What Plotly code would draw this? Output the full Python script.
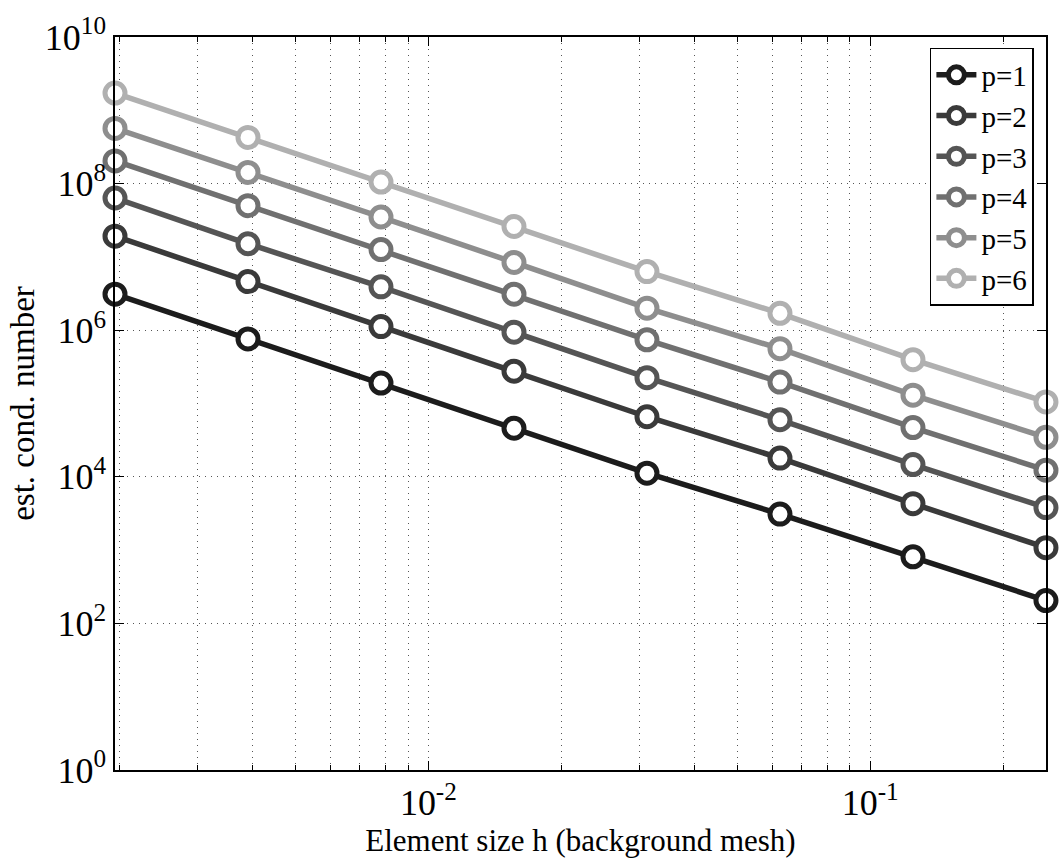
import plotly.graph_objects as go

h = [2**-9, 2**-8, 2**-7, 2**-6, 2**-5, 2**-4, 2**-3, 2**-2]
labels = ["p=1", "p=2", "p=3", "p=4", "p=5", "p=6"]
p1 = [3.1e6, 7.6e5, 1.9e5, 4.6e4, 1.12e4, 3.1e3, 810, 205]
p2 = [1.92e7, 4.6e6, 1.12e6, 2.76e5, 6.6e4, 1.8e4, 4.3e3, 1.08e3]
p3 = [6.36e7, 1.51e7, 3.9e6, 9.4e5, 2.25e5, 6.0e4, 1.47e4, 3.8e3]
p4 = [2.04e8, 5.0e7, 1.26e7, 3.1e6, 7.4e5, 1.96e5, 4.7e4, 1.23e4]
p5 = [5.66e8, 1.42e8, 3.5e7, 8.4e6, 2.0e6, 5.6e5, 1.3e5, 3.46e4]
p6 = [1.72e9, 4.27e8, 1.05e8, 2.6e7, 6.3e6, 1.7e6, 3.96e5, 1.05e5]
series = [p1, p2, p3, p4, p5, p6]
colors = ["#1c1c1c", "#3a3a3a", "#555555", "#707070", "#8e8e8e", "#b0b0b0"]

xtickvals = [1e-2, 1e-1]
xticktext = ["10<sup>-2</sup>", "10<sup>-1</sup>"]
ytickvals = [1e0, 1e2, 1e4, 1e6, 1e8, 1e10]
yticktext = ["10<sup>0</sup>", "10<sup>2</sup>", "10<sup>4</sup>", "10<sup>6</sup>", "10<sup>8</sup>", "10<sup>10</sup>"]

font = "Liberation Serif, Times New Roman, serif"

fig = go.Figure()
for name, ys, c in zip(labels, series, colors):
    fig.add_trace(go.Scatter(
        x=h, y=ys, name=name, mode="lines+markers",
        line=dict(color=c, width=5.5),
        marker=dict(symbol="circle", size=20, color="white",
                    line=dict(color=c, width=5)),
        cliponaxis=False,
    ))

fig.update_layout(
    width=1063, height=859,
    margin=dict(l=115, r=17, t=33, b=89),
    paper_bgcolor="white", plot_bgcolor="white",
    font=dict(family=font, size=30, color="black"),
    showlegend=True,
    legend=dict(
        x=0.987, y=0.985, xanchor="right", yanchor="top",
        bgcolor="white", bordercolor="black", borderwidth=1.5,
        font=dict(family=font, size=29, color="black"),
        tracegroupgap=0, itemwidth=40,
    ),
)

grid_dash = "1px,5px"

fig.update_xaxes(
    type="log", range=[-2.70927, -0.60200],
    tickvals=xtickvals, ticktext=xticktext,
    ticks="inside", ticklen=9, tickwidth=1.2, tickcolor="black",
    showline=True, linecolor="black", linewidth=1.5, mirror="allticks",
    showgrid=True, gridcolor="#555555", griddash=grid_dash, gridwidth=1,
    minor=dict(dtick="D1", ticks="inside", ticklen=5, tickcolor="black",
               showgrid=True, gridcolor="#555555", griddash=grid_dash, gridwidth=1),
    tickfont=dict(family=font, size=36, color="black"),
    title=dict(text="Element size h (background mesh)",
               font=dict(family=font, size=31, color="black"), standoff=0),
    zeroline=False,
)
fig.update_yaxes(
    type="log", range=[0, 10],
    tickvals=ytickvals, ticktext=yticktext,
    ticks="inside", ticklen=9, tickwidth=1.2, tickcolor="black",
    showline=True, linecolor="black", linewidth=1.5, mirror="allticks",
    showgrid=True, gridcolor="#555555", griddash=grid_dash, gridwidth=1,
    tickfont=dict(family=font, size=36, color="black"),
    title=dict(text="est. cond. number",
               font=dict(family=font, size=33, color="black"), standoff=0),
    zeroline=False,
)

fig.write_html("out.html")
